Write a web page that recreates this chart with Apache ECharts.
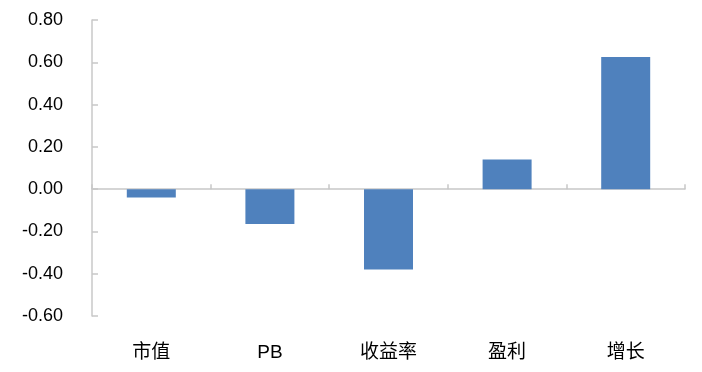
<!DOCTYPE html>
<html>
<head>
<meta charset="utf-8">
<script src="https://cdn.jsdelivr.net/npm/echarts@6/dist/echarts.min.js"></script>
<style>html,body{margin:0;padding:0;background:#fff}#c{width:702px;height:372px}</style>
</head>
<body>
<div id="c"></div>
<script>
var categories = ['市值', 'PB', '收益率', '盈利', '增长'];
var values = [-0.04, -0.165, -0.38, 0.14, 0.625];
var yTicks = { min: -0.6, max: 0.8, interval: 0.2 };

var chart = echarts.init(document.getElementById('c'), null, { renderer: 'canvas' });
var fontFamily = '"Liberation Sans", Arial, "Noto Sans CJK SC", sans-serif';
chart.setOption({
  animation: false,
  grid: { left: 92, right: 17, top: 20, bottom: 56, containLabel: false },
  xAxis: [
    {
      type: 'category', data: categories,
      axisLine: { onZero: true, lineStyle: { color: '#C8C8C8', width: 1.5 } },
      axisTick: { show: true, inside: true, length: 5, lineStyle: { color: '#C8C8C8', width: 1.5 } },
      axisLabel: { show: false },
      splitLine: { show: false }
    },
    {
      type: 'category', data: categories, position: 'bottom', offset: 0,
      axisLine: { show: false, onZero: false },
      axisTick: { show: false },
      axisLabel: { show: true, margin: 27, fontSize: 19, color: '#000', fontFamily: fontFamily },
      splitLine: { show: false }
    }
  ],
  yAxis: {
    type: 'value', min: yTicks.min, max: yTicks.max, interval: yTicks.interval,
    axisLine: { show: true, lineStyle: { color: '#C8C8C8', width: 1.5 } },
    axisTick: { show: true, inside: true, length: 6, lineStyle: { color: '#C8C8C8', width: 1.5 } },
    splitLine: { show: false },
    axisLabel: {
      margin: 29, fontSize: 18, color: '#000', fontFamily: fontFamily,
      formatter: function (v) { return v.toFixed(2); }
    }
  },
  series: [{
    type: 'bar', data: values, xAxisIndex: 0, barWidth: 49,
    itemStyle: { color: '#4F81BD' }
  }]
});
</script>
</body>
</html>
